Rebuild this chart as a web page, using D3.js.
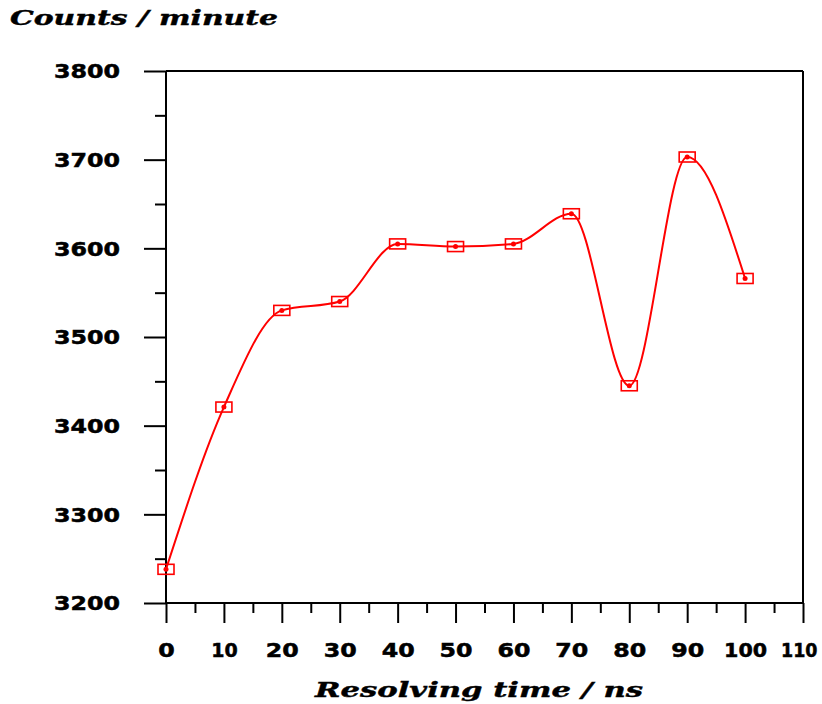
<!DOCTYPE html>
<html>
<head>
<meta charset="utf-8">
<script src="https://cdn.jsdelivr.net/npm/d3@7"></script>
<style>
  html, body { margin: 0; padding: 0; background: #fff; }
  svg { display: block; }
</style>
</head>
<body>
<svg id="chart" width="822" height="704"></svg>
<script>
// Counts per minute against resolving time
const resolvingTime = [0, 10, 20, 30, 40, 50, 60, 70, 80, 90, 100];
const countsPerMinute = [3238, 3421, 3530, 3540, 3605, 3602, 3605, 3639, 3445, 3703, 3566];

const xMajorTicks = [0, 10, 20, 30, 40, 50, 60, 70, 80, 90, 100, 110];
const xMinorTicks = [5, 15, 25, 35, 45, 55, 65, 75, 85, 95, 105];
const yMajorTicks = [3200, 3300, 3400, 3500, 3600, 3700, 3800];
const yMinorTicks = [3250, 3350, 3450, 3550, 3650, 3750];

const yTitle = "Counts  /  minute";
const xTitle = "Resolving  time  /  ns";

const svg = d3.select("#chart");
const plotLeft = 166, plotRight = 803, plotTop = 71, plotBottom = 603;

const x = d3.scaleLinear().domain([0, 110]).range([plotLeft, plotRight]);
const y = d3.scaleLinear().domain([3200, 3800]).range([plotBottom, plotTop]);

const tickFont = "'DejaVu Sans', sans-serif";

// wide, heavy tick numerals; the digit one is set narrower than the rest
function labelWidth(s) {
  let w = 0;
  for (const ch of s) w += ch === "1" ? 10 : 16.5;
  return w;
}

function styleAxis(g) {
  g.select(".domain").remove();
  g.selectAll(".tick line").attr("stroke", "#000").attr("stroke-width", 2);
}

function styleTickText(sel) {
  sel.attr("font-family", tickFont).attr("font-weight", "bold").attr("font-size", 19)
    .attr("fill", "#000").attr("stroke", "#000").attr("stroke-width", 0.5)
    .attr("textLength", function () { return labelWidth(this.textContent); })
    .attr("lengthAdjust", "spacingAndGlyphs");
}

function frameLine(x1, y1, x2, y2) {
  svg.append("line").attr("x1", x1).attr("y1", y1).attr("x2", x2).attr("y2", y2)
    .attr("stroke", "#000").attr("stroke-width", 2);
}

// plot frame
frameLine(plotLeft, plotTop, plotRight, plotTop);
frameLine(plotRight, plotTop, plotRight, plotBottom);
frameLine(plotLeft, plotTop, plotLeft, plotBottom);
frameLine(plotLeft, plotBottom, plotRight, plotBottom);

// y axis
const yMajor = svg.append("g").attr("transform", `translate(${plotLeft},0)`)
  .call(d3.axisLeft(y).tickValues(yMajorTicks).tickSize(22).tickPadding(0).tickFormat(d3.format("d")))
  .call(styleAxis);
yMajor.selectAll(".tick text")
  .attr("text-anchor", "end")
  .attr("x", -46).attr("dy", "0.36em")
  .call(styleTickText);

svg.append("g").attr("transform", `translate(${plotLeft},0)`)
  .call(d3.axisLeft(y).tickValues(yMinorTicks).tickSize(11).tickFormat(""))
  .call(styleAxis);

// x axis
const xMajor = svg.append("g").attr("transform", `translate(0,${plotBottom})`)
  .call(d3.axisBottom(x).tickValues(xMajorTicks).tickSize(20).tickPadding(0).tickFormat(d3.format("d")))
  .call(styleAxis);
xMajor.selectAll(".tick text")
  .attr("text-anchor", "middle")
  .attr("y", 54).attr("dy", 0)
  .call(styleTickText);
// last label sits flush with the right edge of the page
xMajor.selectAll(".tick text").filter(d => d === 110)
  .attr("text-anchor", "end").attr("x", 14);

svg.append("g").attr("transform", `translate(0,${plotBottom})`)
  .call(d3.axisBottom(x).tickValues(xMinorTicks).tickSize(10).tickFormat(""))
  .call(styleAxis);

// axis titles
svg.append("text")
  .attr("x", 10).attr("y", 25)
  .attr("font-family", "'DejaVu Serif', serif").attr("font-weight", "bold").attr("font-style", "italic")
  .attr("font-size", 20)
  .attr("textLength", 268).attr("lengthAdjust", "spacingAndGlyphs")
  .attr("fill", "#000").attr("stroke", "#000").attr("stroke-width", 0.4)
  .text(yTitle);

svg.append("text")
  .attr("x", 315).attr("y", 697)
  .attr("font-family", "'DejaVu Serif', serif").attr("font-weight", "bold").attr("font-style", "italic")
  .attr("font-size", 20)
  .attr("textLength", 328).attr("lengthAdjust", "spacingAndGlyphs")
  .attr("fill", "#000").attr("stroke", "#000").attr("stroke-width", 0.4)
  .text(xTitle);

// data
const data = resolvingTime.map((t, i) => ({ t, c: countsPerMinute[i] }));

const line = d3.line().x(d => x(d.t)).y(d => y(d.c)).curve(d3.curveMonotoneX);

svg.append("path").datum(data)
  .attr("d", line)
  .attr("fill", "none").attr("stroke", "#ff0000").attr("stroke-width", 2);

const pts = svg.append("g");
pts.selectAll("rect").data(data).join("rect")
  .attr("x", d => x(d.t) - 8).attr("y", d => y(d.c) - 5)
  .attr("width", 16).attr("height", 10)
  .attr("fill", "none").attr("stroke", "#ff0000").attr("stroke-width", 1.6);
pts.selectAll("circle").data(data).join("circle")
  .attr("cx", d => x(d.t)).attr("cy", d => y(d.c)).attr("r", 2.5)
  .attr("fill", "#ff0000");
</script>
</body>
</html>
